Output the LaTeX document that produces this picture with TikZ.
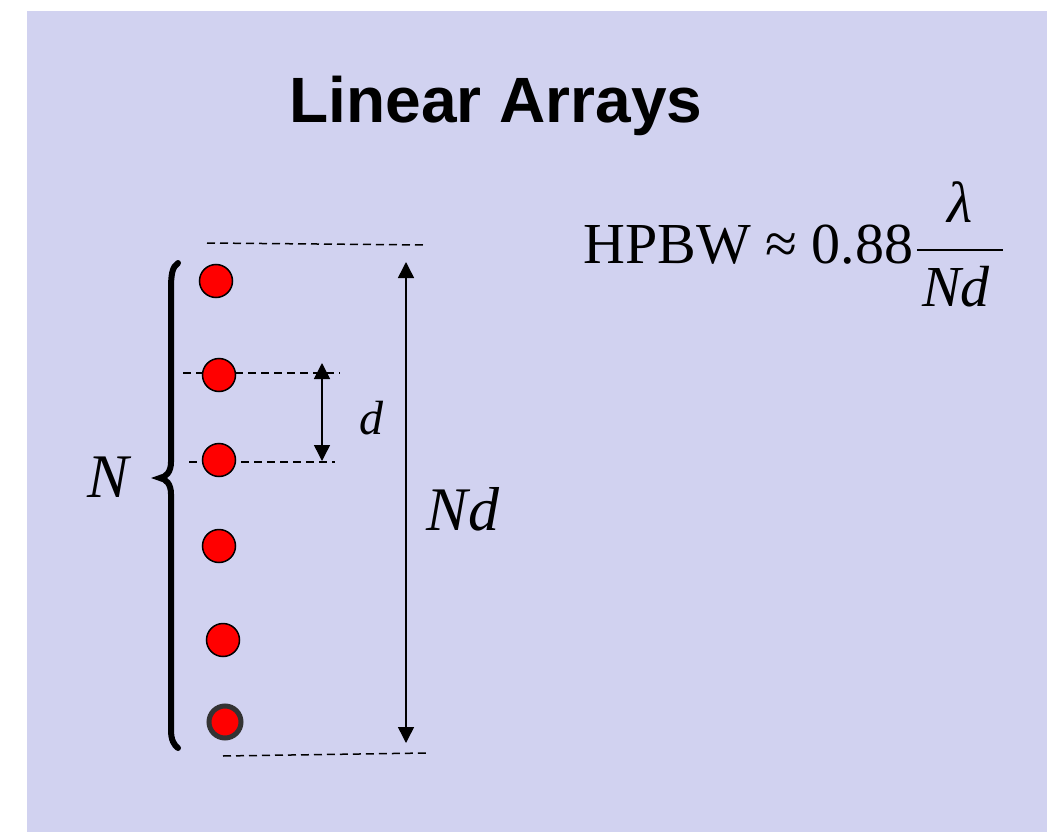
\documentclass[tikz,border=0pt]{standalone}
\usepackage{fontspec}
\setmainfont{Liberation Serif}
\newfontfamily\titlefont{Liberation Sans}
\usetikzlibrary{arrows.meta}
\definecolor{bgcol}{RGB}{209,210,240}
\definecolor{ringcol}{RGB}{51,51,51}
\begin{document}
\begin{tikzpicture}[x=1pt,y=-1pt,
  elem/.style={circle,fill=red,draw=black,line width=1.5pt,minimum size=33pt,inner sep=0pt},
  lastelem/.style={circle,fill=red,draw=ringcol,line width=5pt,minimum size=32pt,inner sep=0pt},
  guide/.style={line width=1.5pt,dash pattern=on 8pt off 5pt},
  dim/.style={line width=1.5pt,{Triangle[width=16pt,length=16pt]}-{Triangle[width=16pt,length=16pt]}},
  txt/.style={inner sep=0pt,anchor=base}]
\useasboundingbox (0,0) rectangle (1047,832);
\fill[white] (0,0) rectangle (1047,832);
\fill[bgcol] (27,11) rectangle (1047,832);
% title
\node[txt] (title) at (496,123) {\resizebox{413pt}{!}{\titlefont\bfseries\fontsize{70}{75}\selectfont Linear Arrays}};
% guide lines (drawn under the elements)
\coordinate (t1) at (207,243); \coordinate (t2) at (427,245);
\coordinate (m1) at (183,373); \coordinate (m2) at (340,373);
\coordinate (n1) at (189,462); \coordinate (n2) at (335,462);
\coordinate (b1) at (223,756); \coordinate (b2) at (427,753);
\draw[guide] (t1) -- (t2);
\draw[guide] (m1) -- (m2);
\draw[guide] (n1) -- (n2);
\draw[guide] (b1) -- (b2);
% elements
\node[elem] (e1) at (216,281) {};
\node[elem] (e2) at (219,375) {};
\node[elem] (e3) at (219,460) {};
\node[elem] (e4) at (219,546) {};
\node[elem] (e5) at (223,640) {};
\node[lastelem] (e6) at (225,722) {};
% dimension arrows
\coordinate (da) at (322,363); \coordinate (db) at (322,461);
\draw[dim] (da) -- (db);
\coordinate (Na) at (406,262); \coordinate (Nb) at (406,743);
\draw[dim] (Na) -- (Nb);
% brace
\draw[line width=6pt,line cap=round] (178,263) .. controls (172,267) and (171,275) .. (171,290) -- (171,462)
  .. controls (171,472) and (166,477) .. (160,478)
  .. controls (166,479) and (171,484) .. (171,494) -- (171,730)
  .. controls (171,740) and (174,745) .. (178,748);
% labels
\node[txt] (dlab) at (371,434) {\itshape\fontsize{48}{50}\selectfont d};
\node[txt] (Ndlab) at (463,530) {\itshape\fontsize{62}{64}\selectfont Nd};
\node[txt] (Nlab) at (108,497) {\itshape\fontsize{62}{64}\selectfont N};
% formula
\node[inner sep=0pt,anchor=base west] (hpbw) at (583,263) {\fontsize{58}{60}\selectfont HPBW ≈ 0.88};
\node[txt] (lam) at (960,222) {\itshape\fontsize{58}{60}\selectfont λ};
\node[txt] (den) at (956,306) {\itshape\fontsize{58}{60}\selectfont Nd};
\draw[line width=2pt] (917,250) -- (1003,250);
\end{tikzpicture}
\end{document}
